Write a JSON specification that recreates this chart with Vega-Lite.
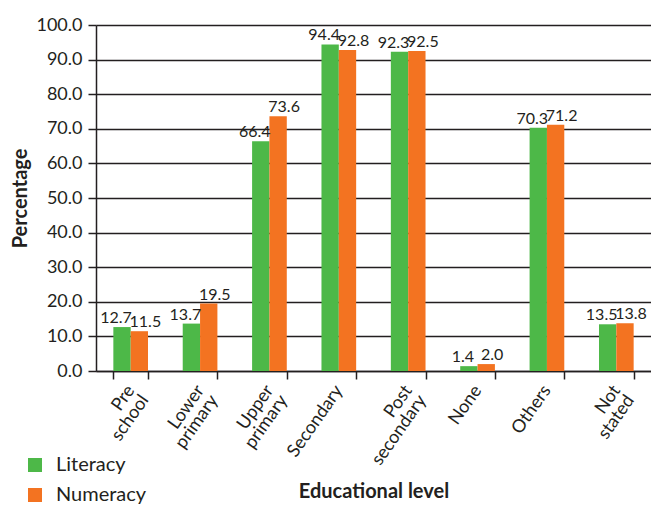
{
  "$schema": "https://vega.github.io/schema/vega-lite/v6.json",
  "width": 555,
  "height": 346,
  "autosize": "none",
  "padding": {"left": 96, "top": 25, "right": 0, "bottom": 135},
  "background": "white",
  "data": {
    "values": [
      {"level": "Pre school", "series": "Literacy", "value": 12.7},
      {"level": "Pre school", "series": "Numeracy", "value": 11.5},
      {"level": "Lower primary", "series": "Literacy", "value": 13.7},
      {"level": "Lower primary", "series": "Numeracy", "value": 19.5},
      {"level": "Upper primary", "series": "Literacy", "value": 66.4},
      {"level": "Upper primary", "series": "Numeracy", "value": 73.6},
      {"level": "Secondary", "series": "Literacy", "value": 94.4},
      {"level": "Secondary", "series": "Numeracy", "value": 92.8},
      {"level": "Post secondary", "series": "Literacy", "value": 92.3},
      {"level": "Post secondary", "series": "Numeracy", "value": 92.5},
      {"level": "None", "series": "Literacy", "value": 1.4},
      {"level": "None", "series": "Numeracy", "value": 2.0},
      {"level": "Others", "series": "Literacy", "value": 70.3},
      {"level": "Others", "series": "Numeracy", "value": 71.2},
      {"level": "Not stated", "series": "Literacy", "value": 13.5},
      {"level": "Not stated", "series": "Numeracy", "value": 13.8}
    ]
  },
  "config": {
    "view": {"stroke": null},
    "font": "Lato",
    "axis": {"labelFont": "Lato", "titleFont": "Lato", "labelColor": "#231f20", "titleColor": "#231f20"}
  },
  "encoding": {
    "x": {
      "field": "level",
      "type": "nominal",
      "sort": null,
      "scale": {"paddingInner": 0.5, "paddingOuter": 0.25},
      "axis": {
        "title": "Educational level",
        "titleFontSize": 20,
        "titleFontWeight": "bold",
        "titleY": 120,
        "titleBaseline": "middle",
        "labelAngle": -55,
        "labelAlign": "right",
        "labelBaseline": "middle",
        "labelFontSize": 18,
        "labelPadding": 8,
        "labelLineHeight": 17,
        "labelExpr": "split(datum.label, ' ')",
        "tickBand": "extent",
        "tickSize": 8,
        "tickColor": "#231f20",
        "tickWidth": 1.5,
        "domainColor": "#231f20",
        "domainWidth": 1.5
      }
    },
    "xOffset": {"field": "series", "type": "nominal", "scale": {"paddingInner": 0, "paddingOuter": 0}},
    "y": {
      "field": "value",
      "type": "quantitative",
      "scale": {"domain": [0, 100], "nice": false},
      "axis": {
        "title": "Percentage",
        "titleFontSize": 20,
        "titleFontWeight": "bold",
        "titlePadding": 5,
        "values": [0, 10, 20, 30, 40, 50, 60, 70, 80, 90, 100],
        "format": ".1f",
        "labelFontSize": 18,
        "labelPadding": 6,
        "grid": true,
        "gridColor": "#231f20",
        "gridWidth": 1.5,
        "gridOpacity": 1,
        "tickColor": "#231f20",
        "tickWidth": 1.5,
        "tickSize": 8,
        "domainColor": "#231f20",
        "domainWidth": 1.5
      }
    }
  },
  "layer": [
    {
      "mark": {"type": "bar"},
      "encoding": {
        "color": {
          "field": "series",
          "type": "nominal",
          "scale": {"domain": ["Literacy", "Numeracy"], "range": ["#4db848", "#f37321"]},
          "legend": {
            "title": null,
            "orient": "none",
            "legendX": -71,
            "legendY": 430,
            "symbolType": "square",
            "symbolSize": 196,
            "symbolStrokeWidth": 0,
            "labelFontSize": 20,
            "labelFont": "Lato",
            "labelColor": "#231f20",
            "rowPadding": 10,
            "labelOffset": 11
          }
        }
      }
    },
    {
      "transform": [{"filter": "datum.series == 'Literacy'"}],
      "mark": {"type": "text", "baseline": "alphabetic", "dy": -4, "dx": -6, "fontSize": 16, "color": "#231f20", "font": "Lato"},
      "encoding": {
        "text": {"field": "value", "type": "quantitative", "format": ".1f"}
      }
    },
    {
      "transform": [{"filter": "datum.series == 'Numeracy'"}],
      "mark": {"type": "text", "baseline": "alphabetic", "dy": -4, "dx": 6, "fontSize": 16, "color": "#231f20", "font": "Lato"},
      "encoding": {
        "text": {"field": "value", "type": "quantitative", "format": ".1f"}
      }
    }
  ]
}
